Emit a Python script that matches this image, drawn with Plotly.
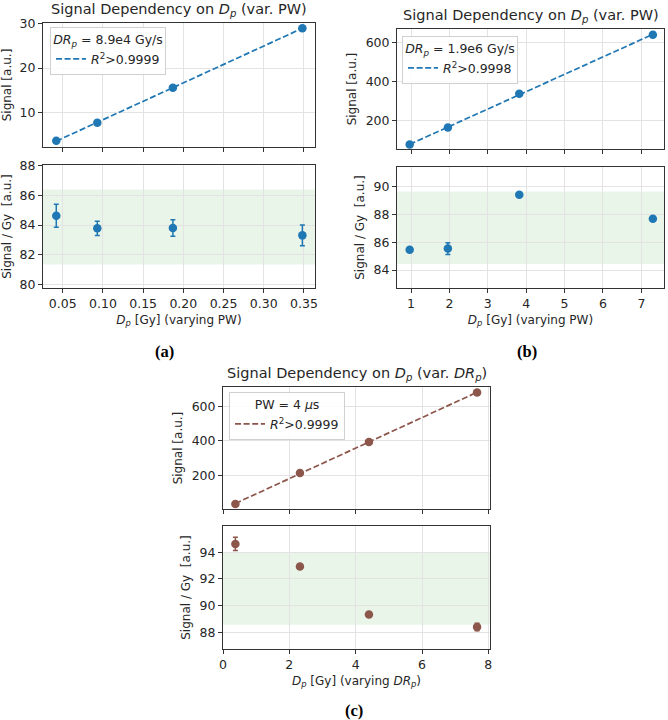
import numpy as np
import plotly.graph_objects as go

# ---------------- data ----------------
# (a) varying PW, DRp = 8.9e4 Gy/s
a_dose = [0.042, 0.093, 0.187, 0.348]
a_signal = [3.8, 7.8, 15.6, 28.9]
a_per_gy = [84.62, 83.78, 83.80, 83.31]
a_err = [0.77, 0.48, 0.55, 0.70]
a_band = [81.35, 86.38]

# (b) varying PW, DRp = 1.9e6 Gy/s
b_dose = [0.965, 1.96, 3.82, 7.30]
b_signal = [80, 166, 338, 639]
b_per_gy = [85.45, 85.54, 89.40, 87.68]
b_err = [0.10, 0.42, 0.10, 0.10]
b_band = [84.43, 89.64]

# (c) varying DRp, PW = 4 us
c_dose = [0.374, 2.32, 4.40, 7.66]
c_signal = [33, 213, 394, 681]
c_per_gy = [94.62, 92.93, 89.33, 88.40]
c_err = [0.50, 0.12, 0.12, 0.28]
c_band = [88.57, 94.02]

BLUE = "#1f77b4"
BROWN = "#8c564b"
FONT = "DejaVu Sans"
TXT = "#262626"
W, H = 668, 720


def px_x(p):
    return p / W


def px_y(p):
    return 1 - p / H


fig = go.Figure()

panels = [
    dict(dose=a_dose, sig=a_signal, pg=a_per_gy, err=a_err, band=a_band, color=BLUE,
         leg="legend", ltitle="<i>DR<sub>p</sub></i> = 8.9e4 Gy/s", r2="<i>R</i><sup>2</sup>>0.9999",
         xt="x", yt="y", xb="x2", yb="y2",
         xpx=(43, 315), ytop=(23, 147), ybot=(165, 288),
         xrange=[0.0255, 0.3637], ytr=[2.4, 30.05], ybr=[79.78, 88.03],
         xdt=0.05, xfmt=".2f", ytdt=10, ybdt=2,
         title="Signal Dependency on <i>D<sub>p</sub></i> (var. PW)", title_y=10,
         xlabel="<i>D<sub>p</sub></i> [Gy] (varying PW)",
         legpx=(50, 27), panel="(a)", panel_px=(164, 351)),
    dict(dose=b_dose, sig=b_signal, pg=b_per_gy, err=b_err, band=b_band, color=BLUE,
         leg="legend2", ltitle="<i>DR<sub>p</sub></i> = 1.9e6 Gy/s", r2="<i>R</i><sup>2</sup>>0.9998",
         xt="x3", yt="y3", xb="x4", yb="y4",
         xpx=(397, 664), ytop=(29, 149), ybot=(167, 288),
         xrange=[0.635, 7.59], ytr=[57, 668], ybr=[82.71, 91.39],
         xdt=1, xfmt="d", ytdt=200, ybdt=2,
         title="Signal Dependency on <i>D<sub>p</sub></i> (var. PW)", title_y=16,
         xlabel="<i>D<sub>p</sub></i> [Gy] (varying PW)",
         legpx=(402, 36), panel="(b)", panel_px=(527, 351)),
    dict(dose=c_dose, sig=c_signal, pg=c_per_gy, err=c_err, band=c_band, color=BROWN,
         leg="legend3", ltitle="PW = 4 <i>μ</i>s", r2="<i>R</i><sup>2</sup>>0.9999",
         xt="x5", yt="y5", xb="x6", yb="y6",
         xpx=(223, 490), ytop=(387, 509), ybot=(526, 649),
         xrange=[0, 8.05], ytr=[4, 713], ybr=[86.75, 95.96],
         xdt=2, xfmt="d", ytdt=200, ybdt=2,
         title="Signal Dependency on <i>D<sub>p</sub></i> (var. <i>DR<sub>p</sub></i>)", title_y=374,
         xlabel="<i>D<sub>p</sub></i> [Gy] (varying <i>DR<sub>p</sub></i>)",
         legpx=(229, 392), panel="(c)", panel_px=(354, 710)),
]

layout_axes = {}
legends = {}
annotations = []
shapes = []

axis_common = dict(
    showline=True, mirror=True, linecolor="#333333", linewidth=1,
    showgrid=True, gridcolor="#e3e3e3", gridwidth=0.8,
    ticks="outside", ticklen=4, tickwidth=1, tickcolor="#333333",
    zeroline=False, automargin=False,
    tickfont=dict(family=FONT, size=12.5, color=TXT),
)

for p in panels:
    dose = np.array(p["dose"])
    sig = np.array(p["sig"])
    slope, icpt = np.polyfit(dose, sig, 1)
    xfit = np.array([dose.min(), dose.max()])
    yfit = slope * xfit + icpt

    fig.add_trace(go.Scatter(x=xfit, y=yfit, mode="lines",
                             line=dict(color=p["color"], width=1.7, dash="6px,2.6px"),
                             name=p["r2"], legend=p["leg"], showlegend=True,
                             xaxis=p["xt"], yaxis=p["yt"]))
    fig.add_trace(go.Scatter(x=p["dose"], y=p["sig"], mode="markers",
                             marker=dict(color=p["color"], size=8.5),
                             showlegend=False, xaxis=p["xt"], yaxis=p["yt"]))
    fig.add_trace(go.Scatter(x=p["dose"], y=p["pg"], mode="markers",
                             marker=dict(color=p["color"], size=8.5),
                             error_y=dict(type="data", array=p["err"], visible=True,
                                          color=p["color"], thickness=1.5, width=2.5),
                             showlegend=False, xaxis=p["xb"], yaxis=p["yb"]))

    shapes.append(dict(type="rect", xref=p["xb"] + " domain", yref=p["yb"],
                       x0=0, x1=1, y0=p["band"][0], y1=p["band"][1],
                       fillcolor="rgba(44,160,44,0.1)", line=dict(width=0), layer="below"))

    xd = [px_x(p["xpx"][0]), px_x(p["xpx"][1])]
    ydt = [px_y(p["ytop"][1]), px_y(p["ytop"][0])]
    ydb = [px_y(p["ybot"][1]), px_y(p["ybot"][0])]

    xt_name = "xaxis" if p["xt"] == "x" else "xaxis" + p["xt"][1:]
    yt_name = "yaxis" if p["yt"] == "y" else "yaxis" + p["yt"][1:]
    xb_name = "xaxis" + p["xb"][1:]
    yb_name = "yaxis" + p["yb"][1:]

    layout_axes[xt_name] = dict(axis_common, domain=xd, anchor=p["yt"], range=p["xrange"],
                                dtick=p["xdt"], tick0=0, showticklabels=False)
    layout_axes[yt_name] = dict(axis_common, domain=ydt, anchor=p["xt"], range=p["ytr"],
                                dtick=p["ytdt"], tick0=0,
                                title=dict(text="Signal [a.u.]", standoff=6,
                                           font=dict(family=FONT, size=12, color=TXT)))
    layout_axes[xb_name] = dict(axis_common, domain=xd, anchor=p["yb"], range=p["xrange"],
                                dtick=p["xdt"], tick0=0, tickformat=p["xfmt"],
                                title=dict(text=p["xlabel"], standoff=5,
                                           font=dict(family=FONT, size=12, color=TXT)))
    layout_axes[yb_name] = dict(axis_common, domain=ydb, anchor=p["xb"], range=p["ybr"],
                                dtick=p["ybdt"], tick0=0,
                                title=dict(text="Signal / Gy\u00a0\u00a0[a.u.]", standoff=6,
                                           font=dict(family=FONT, size=12, color=TXT)))

    legends[p["leg"]] = dict(
        x=px_x(p["legpx"][0]), y=px_y(p["legpx"][1]), xanchor="left", yanchor="top",
        bgcolor="rgba(255,255,255,0.85)", bordercolor="#d0d0d0", borderwidth=1,
        font=dict(family=FONT, size=12.5, color=TXT),
        title=dict(text=p["ltitle"], side="top center",
                   font=dict(family=FONT, size=12.5, color=TXT)),
        itemwidth=30, tracegroupgap=0,
    )

    annotations.append(dict(text=p["title"], xref="paper", yref="paper",
                            x=(xd[0] + xd[1]) / 2, y=px_y(p["title_y"]),
                            xanchor="center", yanchor="middle", showarrow=False,
                            font=dict(family=FONT, size=14.5, color=TXT)))
    annotations.append(dict(text="<b>" + p["panel"] + "</b>", xref="paper", yref="paper",
                            x=px_x(p["panel_px"][0]), y=px_y(p["panel_px"][1]),
                            xanchor="center", yanchor="middle", showarrow=False,
                            font=dict(family="Liberation Serif", size=16.5, color="#000000")))

fig.update_layout(
    width=W, height=H, margin=dict(l=0, r=0, t=0, b=0, autoexpand=False),
    paper_bgcolor="white", plot_bgcolor="white",
    font=dict(family=FONT, color=TXT),
    shapes=shapes, annotations=annotations,
    **layout_axes, **legends,
)

fig.write_html("out.html", config={"displayModeBar": False},
               post_script="document.body.style.margin='0';document.body.style.overflow='hidden';")
